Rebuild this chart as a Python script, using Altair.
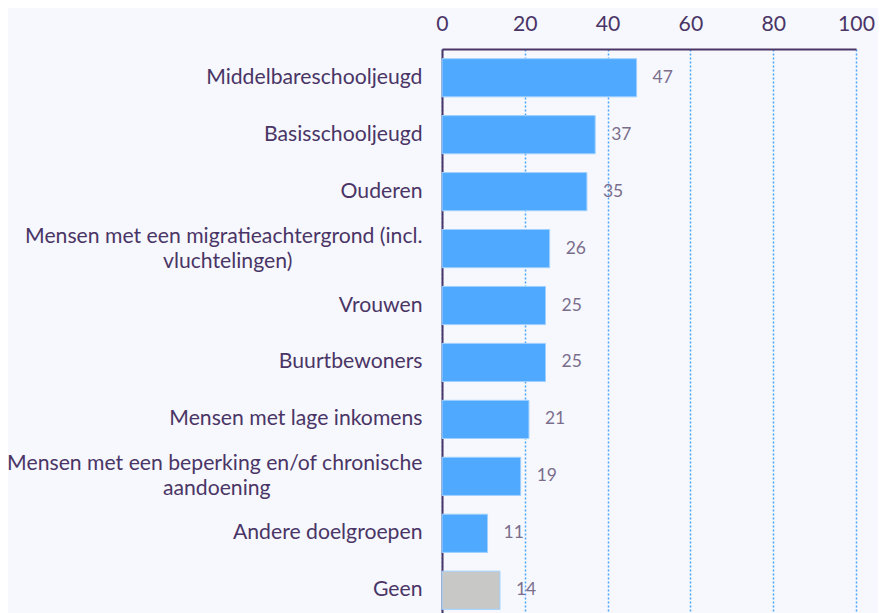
import altair as alt
import pandas as pd

categories = [
    "Middelbareschooljeugd",
    "Basisschooljeugd",
    "Ouderen",
    "Mensen met een migratieachtergrond (incl.|vluchtelingen)",
    "Vrouwen",
    "Buurtbewoners",
    "Mensen met lage inkomens",
    "Mensen met een beperking en/of chronische|aandoening",
    "Andere doelgroepen",
    "Geen",
]
values = [47, 37, 35, 26, 25, 25, 21, 19, 11, 14]
groups = ["main"] * 9 + ["none"]
x_ticks = [0, 20, 40, 60, 80, 100]

NBSP = "\u00a0"
ZWSP = "\u200b"


def center_lines(label):
    parts = label.split("|")
    if len(parts) == 1:
        return label
    first = parts[0]
    out = [first]
    for p in parts[1:]:
        n = int(round((len(first) - len(p)) * 0.89))
        out.append(p + NBSP * n + ZWSP)
    return "|".join(out)


df = pd.DataFrame({
    "cat": [center_lines(c) for c in categories],
    "value": values,
    "group": groups,
})
order = list(df["cat"])

PURPLE = "#4a3566"
FONT = "Lato"

y_enc = alt.Y(
    "cat:N",
    sort=order,
    scale=alt.Scale(paddingInner=0.33, paddingOuter=0.17),
    axis=alt.Axis(
        title=None,
        ticks=False,
        labelPadding=20,
        labelFontSize=21.2,
        labelColor=PURPLE,
        labelFont=FONT,
        labelLimit=0,
        labelLineHeight=25,
        labelExpr="split(datum.label, '|')",
        labelOffset={"condition": {"test": "indexof(datum.label, '|') >= 0", "value": -12}, "value": 0},
        domainColor=PURPLE,
        domainWidth=2,
        grid=False,
    ),
)
x_enc = alt.X(
    "value:Q",
    scale=alt.Scale(domain=[0, 100], nice=False),
    axis=alt.Axis(
        orient="top",
        values=x_ticks,
        title=None,
        ticks=False,
        labelFlush=False,
        labelPadding=15,
        labelFontSize=21.2,
        labelColor=PURPLE,
        labelFont=FONT,
        domainColor=PURPLE,
        domainWidth=2,
        grid=True,
        gridColor="#4aa3ff",
        gridDash=[2, 2],
        gridWidth=1.5,
    ),
)

bars = alt.Chart(df).mark_bar(stroke="#9fd0ff", strokeWidth=1).encode(
    x=x_enc,
    y=y_enc,
    color=alt.Color(
        "group:N",
        scale=alt.Scale(domain=["main", "none"], range=["#4faaff", "#c8c8c6"]),
        legend=None,
    ),
)

labels = alt.Chart(df).mark_text(
    align="left", baseline="middle", dx=16, fontSize=17.5, font=FONT, color="#7b6e8c"
).encode(
    x="value:Q",
    y=alt.Y("cat:N", sort=order),
    text="value:Q",
)

chart = (
    alt.layer(bars, labels)
    .properties(
        width=414,
        height=570,
        autosize=alt.AutoSizeParams(type="none"),
        padding={"left": 434, "top": 41, "right": 22, "bottom": 0},
        background="#f6f8fd",
    )
    .configure_view(stroke=None)
)

chart.save("out.html", embed_options={"renderer": "svg", "actions": False})
